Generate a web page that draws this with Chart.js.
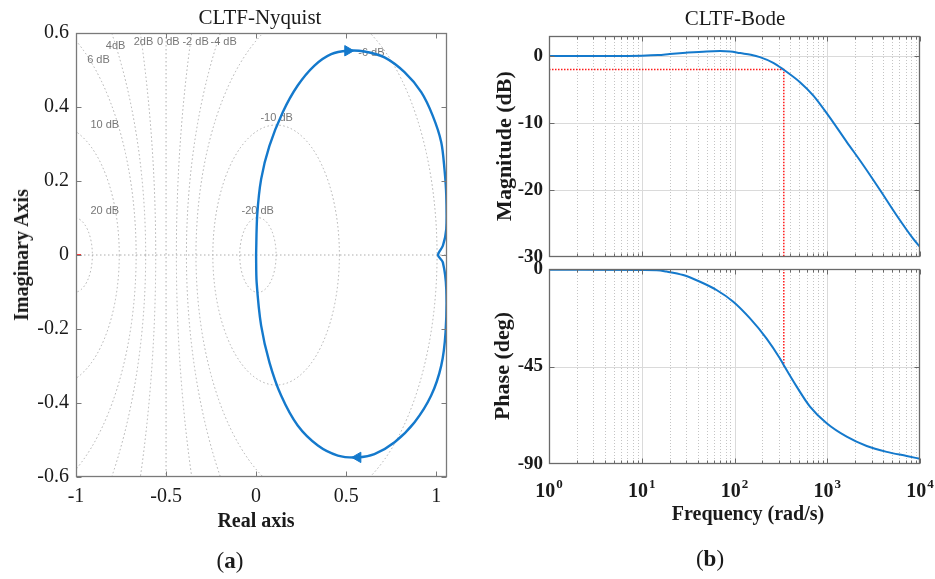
<!DOCTYPE html>
<html>
<head>
<meta charset="utf-8">
<script src="https://cdn.jsdelivr.net/npm/chart.js@4.4.1/dist/chart.umd.min.js"></script>
<style>
 html,body{margin:0;padding:0;background:#fff}
 body{width:935px;height:579px;position:relative;overflow:hidden;font-family:"Liberation Serif","Times New Roman",serif;color:#1a1a1a}
 canvas{position:absolute}
 .t{position:absolute;white-space:nowrap;transform:translate(-50%,-50%);line-height:1}
 .b{font-weight:bold}
</style>
</head>
<body>
<canvas id="nyq" width="470" height="520" style="left:0px;top:0px"></canvas>
<canvas id="mag" width="480" height="275" style="left:470px;top:0px"></canvas>
<canvas id="pha" width="480" height="290" style="left:470px;top:250px"></canvas>

<div class="t" style="left:260px;top:17px;font-size:21px">CLTF-Nyquist</div>
<div class="t b" style="left:21px;top:255px;font-size:20px;transform:translate(-50%,-50%) rotate(-90deg)">Imaginary Axis</div>
<div class="t b" style="left:256px;top:520px;font-size:20px">Real axis</div>
<div class="t" style="left:230px;top:560px;font-size:23px">(<b>a</b>)</div>

<div class="t" style="left:735px;top:18px;font-size:21px">CLTF-Bode</div>
<div class="t b" style="left:504px;top:146px;font-size:22px;transform:translate(-50%,-50%) rotate(-90deg)">Magnitude (dB)</div>
<div class="t b" style="left:502px;top:366px;font-size:22px;transform:translate(-50%,-50%) rotate(-90deg)">Phase (deg)</div>
<div class="t b" style="left:748px;top:513px;font-size:20px">Frequency (rad/s)</div>
<div class="t" style="left:710px;top:558px;font-size:23px">(<b>b</b>)</div>

<script>
// ---------------- data ----------------
// Nyquist curve of the closed-loop transfer function
const nyqReal = [0, 0.006, 0.028, 0.074, 0.148, 0.231, 0.324, 0.417, 0.509, 0.602, 0.713, 0.824, 0.917, 0.981, 1.028, 1.046, 1.056, 1.056, 1.037, 1.010,
                 1.037, 1.056, 1.052, 1.028, 0.972, 0.880, 0.769, 0.657, 0.565, 0.454, 0.343, 0.231, 0.139, 0.074, 0.028, 0.003, 0];
const nyqImag = [0, 0.106, 0.205, 0.295, 0.386, 0.458, 0.512, 0.543, 0.552, 0.550, 0.534, 0.494, 0.440, 0.376, 0.305, 0.232, 0.160, 0.070, 0.025, 0.0,
                 -0.020, -0.092, -0.209, -0.299, -0.380, -0.452, -0.506, -0.538, -0.547, -0.542, -0.515, -0.461, -0.380, -0.290, -0.191, -0.074, 0];
const arrowReal = [0.509, 0.565];
const arrowImag = [0.552, -0.547];
const criticalReal = [-1];
const criticalImag = [0];
const realTicks = [-1, -0.5, 0, 0.5, 1];
const imagTicks = [-0.6, -0.4, -0.2, 0, 0.2, 0.4, 0.6];
const mCircleDb = [20, 10, 6, 4, 2, 0, -2, -4, -6, -10, -20];

// Bode
const freqMag = [1, 5, 10, 15, 20, 30, 50, 70, 90, 115, 150, 188, 262, 336, 508, 708, 1026, 1620, 2449, 3706, 5610, 8470, 10000];
const magDb   = [0, 0, 0.05, 0.15, 0.3, 0.5, 0.7, 0.75, 0.7, 0.45, 0.2, -0.15, -1.0, -2.0, -3.9, -5.9, -8.85, -12.8, -16.3, -20.0, -23.8, -27.3, -28.5];
const freqPhase = [1, 10, 14.5, 18.5, 28, 42.5, 64, 97, 147, 222, 309, 344, 468, 651, 986, 1620, 2663, 4375, 7190, 10000];
const phaseDeg  = [-0.3, -0.5, -0.6, -1.2, -2.8, -5.9, -9.7, -15.1, -22.8, -32.1, -41.3, -44.8, -54.3, -63.5, -71.2, -77.4, -81.7, -84.4, -86.3, -87.6];
const freqTicks = [1, 10, 100, 1000, 10000];
const freqTickBase = '10';
const freqTickExp = ['0', '1', '2', '3', '4'];
const magTicks = [0, -10, -20, -30];
const phaseTicks = [0, -45, -90];
const cutoffFreq = 340;
const cutoffMag = -2;
const cutoffPhase = -45;

// ---------------- style ----------------
const BLUE = '#1479cc';
const SERIF = '"Liberation Serif","Times New Roman",serif';
const SANS = '"Liberation Sans",Arial,sans-serif';
const mLabelPos = { // annotation placement (data coords) for M-circle labels
  '20 dB': [-0.84, 0.119], '10 dB': [-0.84, 0.351], '6 dB': [-0.875, 0.527],
  '4dB': [-0.78, 0.565], '2dB': [-0.625, 0.576], '0 dB': [-0.487, 0.576],
  '-2 dB': [-0.336, 0.576], '-4 dB': [-0.18, 0.576], '-6 dB': [0.64, 0.546],
  '-10 dB': [0.114, 0.370], '-20 dB': [0.009, 0.119]
};
const mLabelText = {20:'20 dB',10:'10 dB',6:'6 dB',4:'4dB',2:'2dB',0:'0 dB',
  '-2':'-2 dB','-4':'-4 dB','-6':'-6 dB','-10':'-10 dB','-20':'-20 dB'};

const pts = (xs, ys) => xs.map((v, i) => ({x: v, y: ys[i]}));
const fmt = v => (Math.abs(v) < 1e-9 ? '0' : String(+v.toFixed(2)));

function line(ctx, x1, y1, x2, y2) { ctx.beginPath(); ctx.moveTo(x1, y1); ctx.lineTo(x2, y2); ctx.stroke(); }

function framePlugin(o) {
  return {
    id: 'frame',
    beforeDatasetsDraw(chart) {
      const {ctx, chartArea: a} = chart;
      const x = chart.scales.x, y = chart.scales.y;
      ctx.save();
      ctx.beginPath(); ctx.rect(a.left, a.top, a.right - a.left, a.bottom - a.top); ctx.clip();
      if (o.logGrid) {
        ctx.lineWidth = 1;
        ctx.strokeStyle = '#c4c4c4'; ctx.setLineDash([1, 2]);
        for (let d = 1; d < 10000; d *= 10) for (let m = 2; m < 10; m++) {
          const px = Math.round(x.getPixelForValue(m * d)) + 0.5; line(ctx, px, a.top, px, a.bottom);
        }
        ctx.setLineDash([]); ctx.strokeStyle = '#dadada';
        freqTicks.forEach(v => { const px = Math.round(x.getPixelForValue(v)) + 0.5; line(ctx, px, a.top, px, a.bottom); });
        o.yTicks.forEach(v => { const py = Math.round(y.getPixelForValue(v)) + 0.5; line(ctx, a.left, py, a.right, py); });
      }
      if (o.mCircles) {
        ctx.lineWidth = 1; ctx.strokeStyle = '#adadad'; ctx.setLineDash([1.5, 2.5]);
        const cy = y.getPixelForValue(0);
        line(ctx, a.left, cy, a.right, cy);
        mCircleDb.forEach(db => {
          if (db === 0) { const px = x.getPixelForValue(-0.5); line(ctx, px, a.top, px, a.bottom); return; }
          const M = Math.pow(10, db / 20), M2 = M * M;
          const c = -M2 / (M2 - 1), r = Math.abs(M / (M2 - 1));
          const cx = x.getPixelForValue(c);
          const rx = Math.abs(x.getPixelForValue(c + r) - cx);
          const ry = Math.abs(y.getPixelForValue(r) - cy);
          ctx.beginPath(); ctx.ellipse(cx, cy, rx, ry, 0, 0, Math.PI * 2); ctx.stroke();
        });
        ctx.setLineDash([]);
        ctx.fillStyle = '#777'; ctx.font = '11px ' + SANS; ctx.textAlign = 'center'; ctx.textBaseline = 'middle';
        mCircleDb.forEach(db => {
          const t = mLabelText[db]; const p = mLabelPos[t];
          ctx.fillText(t, x.getPixelForValue(p[0]), y.getPixelForValue(p[1]));
        });
      }
      ctx.restore();
    },
    afterDatasetsDraw(chart) {
      const {ctx, chartArea: a} = chart;
      const x = chart.scales.x, y = chart.scales.y;
      ctx.save();
      ctx.strokeStyle = o.boxColor; ctx.lineWidth = 1;
      const L = Math.round(a.left) + 0.5, R = Math.round(a.right) - 0.5, T = Math.round(a.top) + 0.5, B = Math.round(a.bottom) - 0.5;
      o.xTicksList.forEach(v => { const px = Math.round(x.getPixelForValue(v)) + 0.5; line(ctx, px, B, px, B - 5); line(ctx, px, T, px, T + 5); });
      if (o.logGrid) {
        for (let d = 1; d < 10000; d *= 10) for (let m = 2; m < 10; m++) {
          const px = Math.round(x.getPixelForValue(m * d)) + 0.5; line(ctx, px, B, px, B - 3); line(ctx, px, T, px, T + 3);
        }
      }
      o.yTicks.forEach(v => { const py = Math.round(y.getPixelForValue(v)) + 0.5; line(ctx, L, py, L + 5, py); line(ctx, R, py, R - 5, py); });
      ctx.lineWidth = 1.3;
      ctx.strokeRect(L, T, R - L, B - T);
      // power-of-ten tick labels with superscript exponents
      if (o.powerLabels) {
        ctx.fillStyle = '#1a1a1a'; ctx.textBaseline = 'alphabetic'; ctx.textAlign = 'left';
        const fb = 'bold 20px ' + SERIF, fe = 'bold 13px ' + SERIF;
        freqTicks.forEach((v, i) => {
          ctx.font = fb; const wb = ctx.measureText(freqTickBase).width;
          ctx.font = fe; const we = ctx.measureText(freqTickExp[i]).width;
          const x0 = x.getPixelForValue(v) - (wb + we + 1) / 2;
          const yb = a.bottom + 33;
          ctx.font = fb; ctx.fillText(freqTickBase, x0, yb);
          ctx.font = fe; ctx.fillText(freqTickExp[i], x0 + wb + 1, yb - 9);
        });
      }
      ctx.restore();
    }
  };
}

const common = {responsive: false, animation: false, events: [],
  plugins: {legend: {display: false}, tooltip: {enabled: false}, title: {display: false}}};

// ---------------- Nyquist ----------------
new Chart(document.getElementById('nyq'), {
  type: 'scatter',
  data: {datasets: [
    {data: pts(arrowReal, arrowImag), showLine: false, pointStyle: 'triangle', pointRadius: 6,
     pointRotation: [90, 270], pointBackgroundColor: BLUE, pointBorderColor: BLUE, pointBorderWidth: 1},
    {data: pts(nyqReal, nyqImag), showLine: true, borderColor: BLUE, borderWidth: 2.4, pointRadius: 0, tension: 0.3, fill: false},
    {data: pts(criticalReal, criticalImag), showLine: false, pointStyle: 'cross', pointRadius: 5,
     pointBorderColor: '#ff0000', pointBorderWidth: 1.5}
  ]},
  options: Object.assign({}, common, {
    layout: {padding: {left: 0, top: 33, right: 23, bottom: 0}},
    scales: {
      x: {type: 'linear', min: -1, max: 1.06,
          afterBuildTicks: s => { s.ticks = realTicks.map(v => ({value: v})); },
          afterFit: s => { s.height = 43; },
          grid: {display: false, drawTicks: false}, border: {display: false},
          ticks: {padding: 8, color: '#1a1a1a', font: {family: SERIF, size: 20}, callback: v => fmt(v), maxRotation: 0, autoSkip: false}},
      y: {type: 'linear', min: -0.6, max: 0.6,
          afterBuildTicks: s => { s.ticks = imagTicks.map(v => ({value: v})); },
          afterFit: s => { s.width = 76; },
          grid: {display: false, drawTicks: false}, border: {display: false},
          ticks: {padding: 7, color: '#1a1a1a', font: {family: SERIF, size: 20}, callback: v => fmt(v), autoSkip: false}}
    }
  }),
  plugins: [framePlugin({mCircles: true, boxColor: '#7a7a7a', xTicksList: realTicks, yTicks: imagTicks})]
});

// ---------------- Bode magnitude ----------------
new Chart(document.getElementById('mag'), {
  type: 'scatter',
  data: {datasets: [
    {data: pts(freqMag, magDb), showLine: true, borderColor: BLUE, borderWidth: 2, pointRadius: 0, cubicInterpolationMode: 'monotone'},
    {data: [{x: 1, y: cutoffMag}, {x: cutoffFreq, y: cutoffMag}, {x: cutoffFreq, y: -30}], showLine: true,
     borderColor: '#ff1a1a', borderWidth: 1.5, borderDash: [1.5, 1.5], pointRadius: 0}
  ]},
  options: Object.assign({}, common, {
    layout: {padding: {left: 0, top: 36, right: 30, bottom: 18}},
    scales: {
      x: {type: 'logarithmic', min: 1, max: 10000, display: false},
      y: {type: 'linear', min: -30, max: 3,
          afterBuildTicks: s => { s.ticks = magTicks.map(v => ({value: v})); },
          afterFit: s => { s.width = 79; },
          grid: {display: false, drawTicks: false}, border: {display: false},
          ticks: {padding: 6, color: '#1a1a1a', font: {family: SERIF, size: 19, weight: 'bold'}, callback: v => fmt(v), autoSkip: false}}
    }
  }),
  plugins: [framePlugin({logGrid: true, boxColor: '#6a6a6a', xTicksList: freqTicks, yTicks: magTicks.slice(0, 3)})]
});

// ---------------- Bode phase ----------------
new Chart(document.getElementById('pha'), {
  type: 'scatter',
  data: {datasets: [
    {data: pts(freqPhase, phaseDeg), showLine: true, borderColor: BLUE, borderWidth: 2, pointRadius: 0, cubicInterpolationMode: 'monotone'},
    {data: [{x: cutoffFreq, y: 0}, {x: cutoffFreq, y: cutoffPhase}], showLine: true,
     borderColor: '#ff1a1a', borderWidth: 1.5, borderDash: [1.5, 1.5], pointRadius: 0}
  ]},
  options: Object.assign({}, common, {
    layout: {padding: {left: 0, top: 19, right: 30, bottom: 0}},
    scales: {
      x: {type: 'logarithmic', min: 1, max: 10000,
          afterBuildTicks: s => { s.ticks = freqTicks.map(v => ({value: v})); },
          afterFit: s => { s.height = 76; },
          grid: {display: false, drawTicks: false}, border: {display: false},
          ticks: {display: false}},
      y: {type: 'linear', min: -90, max: 0,
          afterBuildTicks: s => { s.ticks = phaseTicks.map(v => ({value: v})); },
          afterFit: s => { s.width = 79; },
          grid: {display: false, drawTicks: false}, border: {display: false},
          ticks: {padding: 6, color: '#1a1a1a', font: {family: SERIF, size: 19, weight: 'bold'}, callback: v => fmt(v), autoSkip: false}}
    }
  }),
  plugins: [framePlugin({logGrid: true, powerLabels: true, boxColor: '#6a6a6a', xTicksList: freqTicks, yTicks: phaseTicks.slice(0, 2)})]
});
</script>
</body>
</html>
